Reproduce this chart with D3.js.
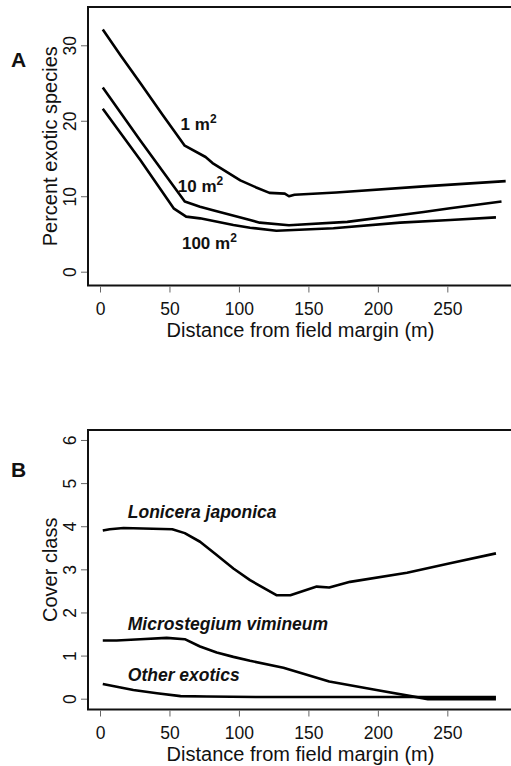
<!DOCTYPE html>
<html>
<head>
<meta charset="utf-8">
<script src="https://cdn.jsdelivr.net/npm/d3@7/dist/d3.min.js"></script>
<style>
  html, body { margin: 0; padding: 0; background: #fff; }
  svg { display: block; font-family: "Liberation Sans", Arial, sans-serif; }
</style>
</head>
<body>
<svg id="chart" width="511" height="766"></svg>
<script>
// ---------- Data ----------
const xTicks = [0, 50, 100, 150, 200, 250];
const yTicksA = [0, 10, 20, 30];
const yTicksB = [0, 1, 2, 3, 4, 5, 6];

// Panel A: percent exotic species vs distance from field margin
const distA1 = [2, 15, 29, 45, 61, 76, 81, 101, 112, 122, 133, 136, 140, 170, 233, 292];
const pctA1  = [32.1, 28.6, 25.0, 20.8, 16.7, 15.2, 14.4, 12.1, 11.2, 10.45, 10.35, 10.0, 10.2, 10.5, 11.3, 12.0];

const distA10 = [2, 29, 61, 72, 82, 108, 115, 136, 178, 233, 252, 289];
const pctA10  = [24.4, 17.4, 9.3, 8.6, 8.1, 6.85, 6.5, 6.15, 6.6, 7.9, 8.4, 9.3];

const distA100 = [2, 29, 53, 62, 72, 96, 108, 127, 168, 216, 252, 285];
const pctA100  = [21.6, 14.8, 8.4, 7.3, 7.07, 6.2, 5.83, 5.43, 5.75, 6.5, 6.85, 7.2];

// Panel B: cover class vs distance from field margin
const distLon = [2, 7, 17, 52, 61, 72, 84, 96, 108, 127, 137, 156, 165, 180, 221, 252, 285];
const covLon  = [3.90, 3.93, 3.96, 3.93, 3.84, 3.64, 3.33, 3.02, 2.75, 2.40, 2.40, 2.60, 2.58, 2.71, 2.92, 3.14, 3.37];

const distMic = [2, 12, 29, 48, 61, 72, 84, 96, 108, 132, 165, 199, 236, 285];
const covMic  = [1.35, 1.35, 1.38, 1.41, 1.38, 1.21, 1.07, 0.97, 0.88, 0.72, 0.40, 0.20, -0.01, -0.01];

const distOth = [2, 24, 41, 58, 77, 115, 285];
const covOth  = [0.34, 0.20, 0.125, 0.06, 0.05, 0.04, 0.04];

const labelsA = [
  { base: "1 m", sup: "2", d: 58, v: 18.8 },
  { base: "10 m", sup: "2", d: 56, v: 10.5 },
  { base: "100 m", sup: "2", d: 59, v: 2.95 }
];
const labelsB = [
  { text: "Lonicera japonica", d: 20, v: 4.2 },
  { text: "Microstegium vimineum", d: 20, v: 1.6 },
  { text: "Other exotics", d: 20, v: 0.4 }
];

// ---------- Drawing ----------
const svg = d3.select("#chart");

function panel(cfg) {
  const g = svg.append("g");
  const x = d3.scaleLinear().domain(cfg.xDom).range([cfg.left, cfg.right]);
  const y = d3.scaleLinear().domain(cfg.yDom).range([cfg.bottom, cfg.top]);

  g.append("rect")
    .attr("x", cfg.left).attr("y", cfg.top)
    .attr("width", cfg.right - cfg.left).attr("height", cfg.bottom - cfg.top)
    .attr("fill", "none").attr("stroke", "#111").attr("stroke-width", 2);

  const xa = g.append("g").attr("transform", `translate(0,${cfg.bottom + 1})`)
    .call(d3.axisBottom(x).tickValues(xTicks).tickSize(6).tickPadding(10).tickFormat(d3.format("d")));
  xa.select(".domain").remove();
  xa.selectAll("line").attr("stroke", "#666").attr("stroke-width", 1);
  xa.selectAll("text").attr("font-size", 17.5).attr("fill", "#111")
    .attr("font-family", "Liberation Sans, Arial, sans-serif");

  const ya = g.append("g").attr("transform", `translate(${cfg.left - 1},0)`)
    .call(d3.axisLeft(y).tickValues(cfg.yTicks).tickSize(6).tickFormat(d3.format("d")));
  ya.select(".domain").remove();
  ya.selectAll("line").attr("stroke", "#666").attr("stroke-width", 1);
  ya.selectAll("text")
    .attr("font-size", 17.5).attr("fill", "#111")
    .attr("font-family", "Liberation Sans, Arial, sans-serif")
    .attr("x", null).attr("dy", null)
    .attr("text-anchor", "middle")
    .attr("transform", `translate(${76 - cfg.left + 1},0) rotate(-90)`);

  g.append("text")
    .attr("x", (cfg.left + 511) / 2 + 1).attr("y", cfg.bottom + 51)
    .attr("text-anchor", "middle").attr("font-size", 20).attr("fill", "#111")
    .text("Distance from field margin (m)");
  g.append("text")
    .attr("transform", `translate(57,${(cfg.top + cfg.bottom) / 2}) rotate(-90)`)
    .attr("text-anchor", "middle").attr("font-size", 20).attr("fill", "#111")
    .text(cfg.yTitle);

  g.append("text")
    .attr("x", 11).attr("y", cfg.letterY)
    .attr("font-size", 21).attr("font-weight", "bold").attr("fill", "#111")
    .text(cfg.letter);

  const line = d3.line().x(d => x(d[0])).y(d => y(d[1]));
  cfg.series.forEach(s => {
    g.append("path")
      .datum(s.d.map((dd, i) => [dd, s.v[i]]))
      .attr("d", line)
      .attr("fill", "none").attr("stroke", "#000")
      .attr("stroke-width", 2.6).attr("stroke-linejoin", "round");
  });
  return { g, x, y };
}

const A = panel({
  left: 88, right: 514, top: 7, bottom: 285.5,
  xDom: [-(100 - 88) / 1.3893, (514 - 100) / 1.3893],
  yDom: [-(285.5 - 271.7) / 7.547, (271.7 - 7) / 7.547],
  yTicks: yTicksA, yTitle: "Percent exotic species", letter: "A", letterY: 67,
  series: [
    { d: distA1, v: pctA1 },
    { d: distA10, v: pctA10 },
    { d: distA100, v: pctA100 }
  ]
});
labelsA.forEach(l => {
  const t = A.g.append("text")
    .attr("x", A.x(l.d)).attr("y", A.y(l.v))
    .attr("font-size", 17).attr("font-weight", "bold").attr("fill", "#111");
  t.append("tspan").text(l.base);
  t.append("tspan").attr("dy", -7).attr("font-size", 12).text(l.sup);
});

const B = panel({
  left: 88, right: 514, top: 430, bottom: 709.5,
  xDom: [-(100 - 88) / 1.3893, (514 - 100) / 1.3893],
  yDom: [-(709.5 - 698.7) / 43.12, (698.7 - 430) / 43.12],
  yTicks: yTicksB, yTitle: "Cover class", letter: "B", letterY: 477,
  series: [
    { d: distLon, v: covLon },
    { d: distMic, v: covMic },
    { d: distOth, v: covOth }
  ]
});
labelsB.forEach(l => {
  B.g.append("text")
    .attr("x", B.x(l.d)).attr("y", B.y(l.v))
    .attr("font-size", 17.5).attr("font-weight", "bold").attr("font-style", "italic")
    .attr("fill", "#111").text(l.text);
});
</script>
</body>
</html>
